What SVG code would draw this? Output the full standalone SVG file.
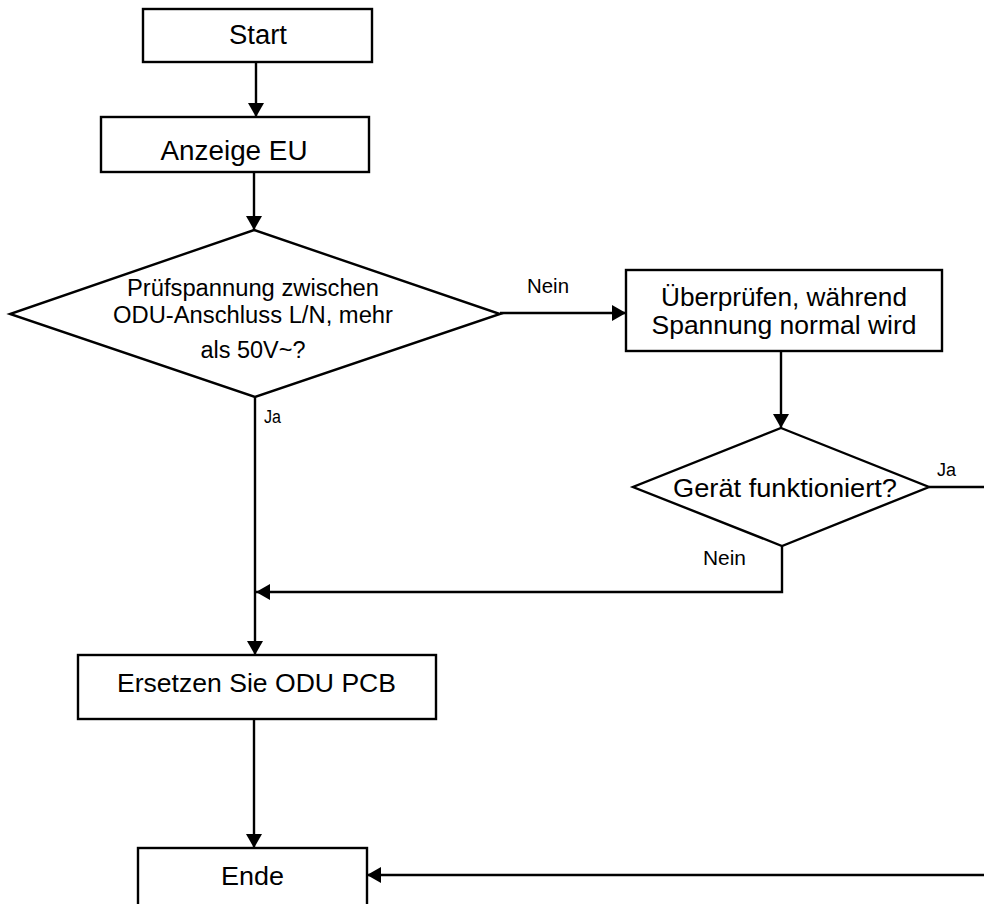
<svg xmlns="http://www.w3.org/2000/svg" width="984" height="904" viewBox="0 0 984 904">
  <style>
    .box { fill: #ffffff; stroke: #000000; stroke-width: 2.4; }
    .wire { fill: none; stroke: #000000; stroke-width: 2.4; }
    .t { font-family: "Liberation Sans", Arial, sans-serif; fill: #000000; text-anchor: middle; }
    .lbl { font-family: "Liberation Sans", Arial, sans-serif; fill: #000000; font-size: 20px; }
    .ja { font-family: "Liberation Sans", Arial, sans-serif; fill: #000000; font-size: 18px; }
  </style>
  <defs>
    <marker id="arrow" markerUnits="userSpaceOnUse" markerWidth="16" markerHeight="16" refX="14" refY="8" orient="auto">
      <path d="M0,0 L14,8 L0,16 Z" fill="#000000"/>
    </marker>
  </defs>
  <rect width="984" height="904" fill="#ffffff"/>

  <!-- connectors -->
  <g id="connectors">
    <line class="wire" x1="256" y1="62" x2="256" y2="117" marker-end="url(#arrow)"/>
    <line class="wire" x1="254" y1="172" x2="254" y2="230" marker-end="url(#arrow)"/>
    <line class="wire" x1="500" y1="313" x2="626" y2="313" marker-end="url(#arrow)"/>
    <line class="wire" x1="781" y1="351" x2="781" y2="428" marker-end="url(#arrow)"/>
    <line class="wire" x1="929" y1="487" x2="984" y2="487"/>
    <polyline class="wire" points="782,546 782,592 256,592" marker-end="url(#arrow)"/>
    <line class="wire" x1="255" y1="397" x2="255" y2="655" marker-end="url(#arrow)"/>
    <line class="wire" x1="254" y1="719" x2="254" y2="848" marker-end="url(#arrow)"/>
    <line class="wire" x1="984" y1="875" x2="367" y2="875" marker-end="url(#arrow)"/>
    <text class="lbl" x="527" y="293" textLength="42" lengthAdjust="spacingAndGlyphs">Nein</text>
    <text class="ja" x="264" y="423" textLength="17" lengthAdjust="spacingAndGlyphs">Ja</text>
    <text class="ja" x="937" y="476" textLength="19" lengthAdjust="spacingAndGlyphs">Ja</text>
    <text class="lbl" x="703" y="565" textLength="43" lengthAdjust="spacingAndGlyphs">Nein</text>
  </g>

  <g id="start">
    <rect class="box" x="143" y="9" width="229" height="53"/>
    <text class="t" x="258" y="44" font-size="27" textLength="58" lengthAdjust="spacingAndGlyphs">Start</text>
  </g>

  <g id="anzeige">
    <rect class="box" x="101" y="117" width="268" height="55"/>
    <text class="t" x="234" y="160" font-size="27" textLength="147" lengthAdjust="spacingAndGlyphs">Anzeige EU</text>
  </g>

  <g id="check-voltage">
    <polygon class="box" points="254,230 500,314 255,397 10,314"/>
    <text class="t" x="253" y="296" font-size="23" textLength="252" lengthAdjust="spacingAndGlyphs">Prüfspannung zwischen</text>
    <text class="t" x="253" y="323" font-size="23" textLength="280" lengthAdjust="spacingAndGlyphs">ODU-Anschluss L/N, mehr</text>
    <text class="t" x="253" y="358" font-size="23" textLength="105" lengthAdjust="spacingAndGlyphs">als 50V~?</text>
  </g>

  <g id="inspect">
    <rect class="box" x="626" y="270" width="316" height="81"/>
    <text class="t" x="784" y="306" font-size="25" textLength="246" lengthAdjust="spacingAndGlyphs">Überprüfen, während</text>
    <text class="t" x="784" y="334" font-size="25" textLength="265" lengthAdjust="spacingAndGlyphs">Spannung normal wird</text>
  </g>

  <g id="device-works">
    <polygon class="box" points="781,428 929,487 782,546 633,487"/>
    <text class="t" x="785" y="497" font-size="26" textLength="224" lengthAdjust="spacingAndGlyphs">Gerät funktioniert?</text>
  </g>

  <g id="replace-pcb">
    <rect class="box" x="78" y="655" width="358" height="64"/>
    <text class="t" x="256.5" y="692" font-size="26" textLength="279" lengthAdjust="spacingAndGlyphs">Ersetzen Sie ODU PCB</text>
  </g>

  <g id="ende">
    <rect class="box" x="138" y="848" width="229" height="70"/>
    <text class="t" x="252.5" y="885" font-size="26" textLength="63" lengthAdjust="spacingAndGlyphs">Ende</text>
  </g>
</svg>
